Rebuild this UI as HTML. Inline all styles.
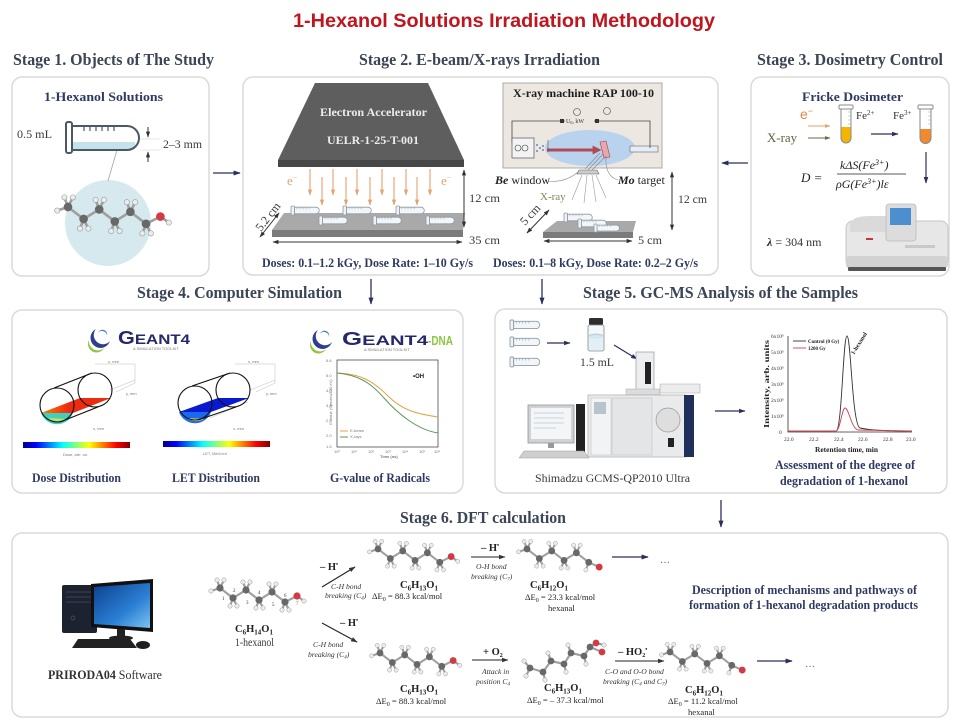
<!DOCTYPE html>
<html><head><meta charset="utf-8">
<style>
html,body{margin:0;padding:0;background:#fff;}
svg{display:block;}
text{font-family:"Liberation Serif",serif;}
.h{font-weight:bold;font-size:16.5px;fill:#3b4556;}
.b{font-weight:bold;font-size:13px;fill:#2e3a62;}
.r{font-size:12px;fill:#3a3a3a;}
.i{font-style:italic;font-size:7.6px;fill:#333;}
.s{font-size:8.6px;fill:#222;}
.sb{font-weight:bold;font-size:10.5px;fill:#222;}
.t{font-family:"Liberation Sans",sans-serif;font-size:4px;fill:#777;}
</style></head><body>
<svg width="960" height="727" viewBox="0 0 960 727" xmlns="http://www.w3.org/2000/svg">
<defs>
 <marker id="ah" viewBox="0 0 10 10" refX="9" refY="5" markerWidth="5.5" markerHeight="5.5" orient="auto"><path d="M0,1.5 L10,5 L0,8.5 z" fill="#2b2f5e"/></marker>
 <marker id="ak" viewBox="0 0 10 10" refX="9" refY="5" markerWidth="6" markerHeight="6" orient="auto-start-reverse"><path d="M0,1.5 L10,5 L0,8.5 z" fill="#333"/></marker>
 <marker id="ao" viewBox="0 0 10 10" refX="9" refY="5" markerWidth="5" markerHeight="5" orient="auto"><path d="M0,1.5 L10,5 L0,8.5 z" fill="#e5a06c"/></marker>
 <marker id="ag" viewBox="0 0 10 10" refX="9" refY="5" markerWidth="5" markerHeight="5" orient="auto"><path d="M0,1.5 L10,5 L0,8.5 z" fill="#5f7040"/></marker>
 <marker id="ar" viewBox="0 0 10 10" refX="6" refY="5" markerWidth="3" markerHeight="3" orient="auto"><path d="M0,0 L10,5 L0,10 z" fill="#b14a55"/></marker>
 <linearGradient id="jet" x1="0" x2="1" y1="0" y2="0">
  <stop offset="0" stop-color="#00008f"/><stop offset="0.12" stop-color="#0000ff"/><stop offset="0.37" stop-color="#00ffff"/><stop offset="0.62" stop-color="#ffff00"/><stop offset="0.87" stop-color="#ff0000"/><stop offset="1" stop-color="#800000"/>
 </linearGradient>
 <linearGradient id="scr" x1="0" x2="1" y1="0" y2="1"><stop offset="0" stop-color="#0d3f8f"/><stop offset="0.6" stop-color="#2a7fd4"/><stop offset="1" stop-color="#7cc3f2"/></linearGradient>
 <linearGradient id="red" x1="0" x2="1" y1="0" y2="0"><stop offset="0" stop-color="#ff7a00"/><stop offset="0.4" stop-color="#ee2a10"/><stop offset="1" stop-color="#e63010"/></linearGradient>
 <g id="tb"><rect x="0" y="0" width="3.5" height="9" rx="1" fill="#eef2f5" stroke="#8d9aa6" stroke-width="0.8"/><path d="M3.5,1.2 H25 A3.3,3.3 0 0 1 25,7.8 H3.5 Z" fill="#f2f6f8" stroke="#8d9aa6" stroke-width="0.8"/><path d="M6,1.2 v2 M9,1.2 v2 M12,1.2 v2 M15,1.2 v2 M18,1.2 v2" stroke="#9aa6b1" stroke-width="0.6"/></g>
 <g id="mol">
  <path d="M0,0L13,10L26,2L39,12L52,4L65,14L77,8L84,13 M0,0L-9,3 M0,0L-3,-8 M0,0L4,-8 M13,10L10,18 M13,10L17,18 M26,2L23,-6 M26,2L30,-6 M39,12L36,20 M39,12L43,20 M52,4L49,-4 M52,4L56,-4 M65,14L62,22 M65,14L69,22" stroke="#a0a0a0" stroke-width="2.2" fill="none" stroke-linecap="round"/>
  <g fill="#ececec" stroke="#9a9a9a" stroke-width="0.5"><circle cx="-9" cy="3" r="2.2"/><circle cx="-3" cy="-8" r="2.2"/><circle cx="4" cy="-8" r="2.2"/><circle cx="10" cy="18" r="2.2"/><circle cx="17" cy="18" r="2.2"/><circle cx="23" cy="-6" r="2.2"/><circle cx="30" cy="-6" r="2.2"/><circle cx="36" cy="20" r="2.2"/><circle cx="43" cy="20" r="2.2"/><circle cx="49" cy="-4" r="2.2"/><circle cx="56" cy="-4" r="2.2"/><circle cx="62" cy="22" r="2.2"/><circle cx="69" cy="22" r="2.2"/><circle cx="84" cy="13" r="2.2"/></g>
  <g fill="#686868"><circle cx="0" cy="0" r="3.6"/><circle cx="13" cy="10" r="3.6"/><circle cx="26" cy="2" r="3.6"/><circle cx="39" cy="12" r="3.6"/><circle cx="52" cy="4" r="3.6"/><circle cx="65" cy="14" r="3.6"/></g>
  <circle cx="77" cy="8" r="3.6" fill="#d23a44"/>
 </g>
 <g id="ald">
  <path d="M0,0L13,10L26,2L39,12L52,4L65,14L76,19 M0,0L-9,3 M0,0L-3,-8 M0,0L4,-8 M13,10L10,18 M13,10L17,18 M26,2L23,-6 M26,2L30,-6 M39,12L36,20 M39,12L43,20 M52,4L49,-4 M52,4L56,-4 M65,14L62,22" stroke="#a0a0a0" stroke-width="2.2" fill="none" stroke-linecap="round"/>
  <g fill="#ececec" stroke="#9a9a9a" stroke-width="0.5"><circle cx="-9" cy="3" r="2.2"/><circle cx="-3" cy="-8" r="2.2"/><circle cx="4" cy="-8" r="2.2"/><circle cx="10" cy="18" r="2.2"/><circle cx="17" cy="18" r="2.2"/><circle cx="23" cy="-6" r="2.2"/><circle cx="30" cy="-6" r="2.2"/><circle cx="36" cy="20" r="2.2"/><circle cx="43" cy="20" r="2.2"/><circle cx="49" cy="-4" r="2.2"/><circle cx="56" cy="-4" r="2.2"/><circle cx="62" cy="22" r="2.2"/></g>
  <g fill="#686868"><circle cx="0" cy="0" r="3.6"/><circle cx="13" cy="10" r="3.6"/><circle cx="26" cy="2" r="3.6"/><circle cx="39" cy="12" r="3.6"/><circle cx="52" cy="4" r="3.6"/><circle cx="65" cy="14" r="3.6"/></g>
  <circle cx="76" cy="19" r="3.6" fill="#d23a44"/>
 </g>
</defs>

<!-- Title -->
<text x="293" y="27" font-family="Liberation Sans, sans-serif" font-weight="bold" font-size="19.5" fill="#c0151d" textLength="422" lengthAdjust="spacingAndGlyphs" style="font-family:'Liberation Sans',sans-serif">1-Hexanol Solutions Irradiation Methodology</text>

<!-- Stage headings -->
<text class="h" x="13" y="65" textLength="201" lengthAdjust="spacingAndGlyphs">Stage 1. Objects of The Study</text>
<text class="h" x="359" y="65" textLength="241" lengthAdjust="spacingAndGlyphs">Stage 2. E-beam/X-rays Irradiation</text>
<text class="h" x="757" y="65" textLength="186" lengthAdjust="spacingAndGlyphs">Stage 3. Dosimetry Control</text>
<text class="h" x="137" y="298" textLength="205" lengthAdjust="spacingAndGlyphs">Stage 4. Computer Simulation</text>
<text class="h" x="583" y="298" textLength="275" lengthAdjust="spacingAndGlyphs">Stage 5. GC-MS Analysis of the Samples</text>
<text class="h" x="400" y="523" textLength="166" lengthAdjust="spacingAndGlyphs">Stage 6. DFT calculation</text>

<!-- Panels -->
<g fill="#fff" stroke="#dadada" stroke-width="1.5">
 <rect x="12" y="77" width="197" height="199" rx="10"/>
 <rect x="243" y="77" width="475" height="198" rx="10"/>
 <rect x="751" y="77" width="198" height="199" rx="10"/>
 <rect x="12" y="310" width="451" height="183" rx="10"/>
 <rect x="495" y="309" width="452" height="184" rx="10"/>
 <rect x="12" y="533" width="936" height="184" rx="10"/>
</g>

<!-- Connectors -->
<g stroke="#2b2f5e" stroke-width="1.3" fill="none" marker-end="url(#ah)">
 <line x1="213" y1="173" x2="240" y2="173"/>
 <line x1="748" y1="163" x2="722" y2="163"/>
 <line x1="371" y1="279" x2="371" y2="304"/>
 <line x1="542" y1="279" x2="542" y2="304"/>
 <line x1="721" y1="500" x2="721" y2="527"/>
</g>

<!-- ===== Stage 1 ===== -->
<text class="b" x="44" y="101" textLength="119" lengthAdjust="spacingAndGlyphs">1-Hexanol Solutions</text>
<text class="r" x="17" y="138" textLength="35" lengthAdjust="spacingAndGlyphs">0.5 mL</text>
<circle cx="108" cy="223" r="43" fill="#d6e9ef"/>
<line x1="117" y1="150" x2="108" y2="181" stroke="#aab4ba" stroke-width="1"/>
<rect x="73" y="142" width="62" height="7" fill="#c4e2ec"/>
<path d="M71,126 H127 A12,12 0 0 1 127,150 H71" fill="none" stroke="#4d5866" stroke-width="2"/>
<rect x="66" y="122" width="6" height="31" rx="2" fill="#fff" stroke="#4d5866" stroke-width="2"/>
<path d="M84,126v5 M90,126v5 M96,126v5 M102,126v5 M108,126v5 M114,126v5" stroke="#4d5866" stroke-width="1.2"/>
<line x1="140" y1="139" x2="160" y2="139" stroke="#e2e6e8" stroke-width="1"/>
<line x1="140" y1="150" x2="160" y2="150" stroke="#e2e6e8" stroke-width="1"/>
<line x1="148" y1="127" x2="148" y2="137" stroke="#333" stroke-width="1" marker-end="url(#ak)"/>
<line x1="148" y1="162" x2="148" y2="152" stroke="#333" stroke-width="1" marker-end="url(#ak)"/>
<text class="r" x="163" y="148" textLength="39" lengthAdjust="spacingAndGlyphs">2–3 mm</text>
<use href="#mol" transform="translate(68,207) scale(1.2)"/>

<!-- ===== Stage 2 left: E-beam ===== -->
<path d="M315,83 H428 L464,160 H278 Z" fill="#5e5e5e"/>
<rect x="278" y="160" width="186" height="7" fill="#474747"/>
<text x="320" y="116" font-weight="bold" font-size="12" fill="#ececec" textLength="107" lengthAdjust="spacingAndGlyphs">Electron Accelerator</text>
<text x="327" y="144" font-weight="bold" font-size="12" fill="#ececec" textLength="92" lengthAdjust="spacingAndGlyphs">UELR-1-25-T-001</text>
<g stroke="#e8ab7c" stroke-width="1.2" marker-end="url(#ao)">
 <line x1="310" y1="169" x2="310" y2="195"/><line x1="322" y1="177" x2="322" y2="205"/>
 <line x1="333" y1="169" x2="333" y2="195"/><line x1="346" y1="177" x2="346" y2="205"/>
 <line x1="357" y1="169" x2="357" y2="195"/><line x1="370" y1="177" x2="370" y2="205"/>
 <line x1="382" y1="169" x2="382" y2="195"/><line x1="394" y1="177" x2="394" y2="205"/>
 <line x1="406" y1="169" x2="406" y2="195"/><line x1="417" y1="177" x2="417" y2="205"/>
 <line x1="430" y1="169" x2="430" y2="195"/>
</g>
<text x="287" y="185" font-size="13" fill="#e8a070">e<tspan font-size="8" dy="-5">−</tspan></text>
<text x="441" y="185" font-size="13" fill="#e8a070">e<tspan font-size="8" dy="-5">−</tspan></text>
<path d="M284,213 H465 L463,230 H272 Z" fill="#a9a9a9"/>
<rect x="272" y="230" width="191" height="7" fill="#7b7b7b"/>
<use href="#tb" transform="translate(291,206)"/><use href="#tb" transform="translate(343,206)"/><use href="#tb" transform="translate(396,206)"/>
<use href="#tb" transform="translate(319,216)"/><use href="#tb" transform="translate(373,216)"/><use href="#tb" transform="translate(426,216)"/>
<line x1="260" y1="237" x2="279" y2="213" stroke="#333" stroke-width="1" marker-end="url(#ak)" marker-start="url(#ak)"/>
<text class="r" font-size="11" transform="translate(261,232) rotate(-52)">5.2 cm</text>
<line x1="464" y1="170" x2="464" y2="227" stroke="#333" stroke-width="1" marker-end="url(#ak)" marker-start="url(#ak)"/>
<text class="r" x="469" y="202" textLength="31" lengthAdjust="spacingAndGlyphs">12 cm</text>
<line x1="273" y1="242" x2="462" y2="242" stroke="#333" stroke-width="1" marker-end="url(#ak)" marker-start="url(#ak)"/>
<text class="r" x="469" y="244" textLength="31" lengthAdjust="spacingAndGlyphs">35 cm</text>
<text class="b" x="262" y="267" font-size="11.5" textLength="211" lengthAdjust="spacingAndGlyphs">Doses: 0.1–1.2 kGy, Dose Rate: 1–10 Gy/s</text>

<!-- ===== Stage 2 right: X-ray ===== -->
<rect x="503" y="83" width="159" height="85" fill="#ede7e1" stroke="#9a9a9a" stroke-width="0.8"/>
<text x="513" y="97" font-weight="bold" font-size="11.5" fill="#1e1e1e" textLength="141" lengthAdjust="spacingAndGlyphs">X-ray machine RAP 100-10</text>
<ellipse cx="590" cy="148" rx="45" ry="18" fill="#b9d3ee"/>
<rect x="630" y="146" width="28" height="6" fill="#e4edf6" stroke="#666" stroke-width="0.6"/>
<polyline points="512,143 512,121 650,121 650,148" fill="none" stroke="#444" stroke-width="0.8"/>
<rect x="560" y="119" width="4" height="4" fill="#333"/><rect x="595" y="119" width="4" height="4" fill="#333"/>
<rect x="565" y="117" width="29" height="7" fill="#ede7e1"/>
<text x="566" y="123" font-size="6" fill="#333">U<tspan font-size="4" dy="1">0</tspan><tspan dy="-1">, kW</tspan></text>
<circle cx="577" cy="112" r="3.5" fill="none" stroke="#444" stroke-width="0.6"/>
<circle cx="607" cy="111" r="3.5" fill="none" stroke="#444" stroke-width="0.6"/>
<rect x="512" y="138" width="22" height="20" fill="#f3f3f3" stroke="#555" stroke-width="0.7"/>
<circle cx="518" cy="148" r="3" fill="none" stroke="#444" stroke-width="0.6"/><circle cx="525" cy="148" r="3" fill="none" stroke="#444" stroke-width="0.6"/>
<g fill="#3b6ab0"><circle cx="537" cy="145" r="0.9"/><circle cx="540" cy="148" r="0.9"/><circle cx="537" cy="151" r="0.9"/><circle cx="543" cy="146" r="0.9"/><circle cx="543" cy="150" r="0.9"/></g>
<line x1="547" y1="150" x2="598" y2="150" stroke="#b14a55" stroke-width="3" marker-end="url(#ar)"/>
<line x1="548" y1="140" x2="548" y2="152" stroke="#555" stroke-width="0.6"/>
<path d="M600,142 L606,141 L610,157 L604,158 Z" fill="#e4a8ae" stroke="#a44" stroke-width="0.6"/>
<g stroke="#888" stroke-width="0.6"><line x1="603" y1="154" x2="588" y2="170"/><line x1="606" y1="156" x2="592" y2="170"/><line x1="600" y1="153" x2="585" y2="169"/></g>
<path d="M579,170 H597 L599,174 H577 Z" fill="#ccc" stroke="#666" stroke-width="0.6"/>
<g stroke="#999" stroke-width="0.6"><line x1="582" y1="175" x2="572" y2="200"/><line x1="587" y1="175" x2="584" y2="203"/><line x1="592" y1="175" x2="596" y2="202"/><line x1="596" y1="175" x2="606" y2="198"/></g>
<path d="M548,181 Q565,183 578,172" fill="none" stroke="#888" stroke-width="0.6"/>
<path d="M618,180 Q605,176 606,158" fill="none" stroke="#888" stroke-width="0.6"/>
<text x="495" y="184" font-size="12" fill="#222"><tspan font-weight="bold" font-style="italic">Be</tspan> window</text>
<text x="618" y="184" font-size="12" fill="#222"><tspan font-weight="bold" font-style="italic">Mo</tspan> target</text>
<text x="540" y="200" font-size="11" fill="#7d8a52">X-ray</text>
<path d="M557,221 H636 L633,232 H543 Z" fill="#a9a9a9"/>
<rect x="543" y="232" width="90" height="6" fill="#7b7b7b"/>
<use href="#tb" transform="translate(564,213)"/><use href="#tb" transform="translate(578,219)"/><use href="#tb" transform="translate(594,224) scale(0.9)"/>
<line x1="527" y1="233" x2="549" y2="210" stroke="#333" stroke-width="1" marker-end="url(#ak)" marker-start="url(#ak)"/>
<text class="r" font-size="11" transform="translate(525,226) rotate(-47)">5 cm</text>
<line x1="544" y1="241" x2="632" y2="241" stroke="#333" stroke-width="1" marker-end="url(#ak)" marker-start="url(#ak)"/>
<text class="r" x="638" y="244" textLength="24" lengthAdjust="spacingAndGlyphs">5 cm</text>
<line x1="672" y1="172" x2="672" y2="230" stroke="#333" stroke-width="1" marker-end="url(#ak)" marker-start="url(#ak)"/>
<text class="r" x="678" y="203" textLength="29" lengthAdjust="spacingAndGlyphs">12 cm</text>
<text class="b" x="493" y="267" font-size="11.5" textLength="205" lengthAdjust="spacingAndGlyphs">Doses: 0.1–8 kGy, Dose Rate: 0.2–2 Gy/s</text>

<!-- ===== Stage 3 ===== -->
<text class="b" x="802" y="101" textLength="101" lengthAdjust="spacingAndGlyphs">Fricke Dosimeter</text>
<text x="800" y="119" font-family="Liberation Sans, sans-serif" style="font-family:'Liberation Sans',sans-serif" font-size="14" fill="#e3884a">e<tspan font-size="9" dy="-5">−</tspan></text>
<text x="767" y="142" font-size="12.5" fill="#56663a" textLength="30" lengthAdjust="spacingAndGlyphs">X-ray</text>
<line x1="808" y1="126" x2="830" y2="126" stroke="#e5a06c" stroke-width="1.1" marker-end="url(#ao)"/>
<line x1="808" y1="138" x2="830" y2="138" stroke="#5f7040" stroke-width="1.1" marker-end="url(#ag)"/>
<path d="M841,127 V138 A5,5 0 0 0 851,138 V127 Z" fill="#f4b400"/>
<path d="M841,109 V138 A5,5 0 0 0 851,138 V109" fill="none" stroke="#8a8a8a" stroke-width="1"/>
<rect x="839" y="105" width="14" height="4" rx="1" fill="#fff" stroke="#8a8a8a" stroke-width="1"/>
<path d="M848,112h3 M848,116h3 M848,120h3 M848,124h3" stroke="#999" stroke-width="0.6"/>
<path d="M920,129 V138 A5.5,5.5 0 0 0 931,138 V129 Z" fill="#f08a2c"/>
<path d="M920,109 V138 A5.5,5.5 0 0 0 931,138 V109" fill="none" stroke="#8a8a8a" stroke-width="1"/>
<rect x="918" y="105" width="15" height="4" rx="1" fill="#fff" stroke="#8a8a8a" stroke-width="1"/>
<path d="M928,112h3 M928,116h3 M928,120h3 M928,124h3" stroke="#999" stroke-width="0.6"/>
<text x="856" y="119" font-size="11" fill="#333">Fe<tspan font-size="7" dy="-4">2+</tspan></text>
<text x="893" y="119" font-size="11" fill="#333">Fe<tspan font-size="7" dy="-4">3+</tspan></text>
<line x1="871" y1="134" x2="898" y2="134" stroke="#2b2f5e" stroke-width="1.2" marker-end="url(#ah)"/>
<line x1="926" y1="152" x2="926" y2="183" stroke="#2b2f5e" stroke-width="1.2" marker-end="url(#ah)"/>
<text x="801" y="182" font-size="13" font-style="italic" fill="#222">D =</text>
<text x="840" y="169" font-size="12" font-style="italic" fill="#222">kΔS(Fe<tspan font-size="8" dy="-4">3+</tspan><tspan dy="4">)</tspan></text>
<line x1="837" y1="174" x2="906" y2="174" stroke="#222" stroke-width="0.8"/>
<text x="836" y="188" font-size="12" font-style="italic" fill="#222">ρG(Fe<tspan font-size="8" dy="-4">3+</tspan><tspan dy="4">)lε</tspan></text>
<rect x="846" y="221" width="102" height="47" rx="7" fill="#e7e7e7" stroke="#c6c6c6"/>
<path d="M850,224 Q852,216 870,216 H886 V232 H850 Z" fill="#dadada"/>
<rect x="846" y="256" width="102" height="12" rx="3" fill="#d2d2d2"/>
<rect x="886" y="204" width="30" height="37" rx="3" fill="#dcdcdc" stroke="#bbb" stroke-width="0.8"/>
<rect x="890" y="208" width="21" height="17" fill="#4d8fce"/>
<rect x="866" y="238" width="7" height="2" fill="#c33"/>
<rect x="848" y="267" width="98" height="4" rx="1" fill="#555"/>
<rect x="905" y="245" width="30" height="3" fill="#c9c9c9"/>
<text x="767" y="246" font-size="12" fill="#333"><tspan font-weight="bold" font-style="italic">λ</tspan> = 304 nm</text>

<!-- ===== Stage 4 ===== -->
<!-- logos -->
<path d="M96,329 A10,10 0 1 0 110,341 A7,7 0 1 1 96,329 Z" fill="#2f3f8f"/>
<path d="M89,340 A9,9 0 0 0 104,348 A7,7 0 0 1 89,340 Z" fill="#8dc63f"/>
<path d="M98,333 A5,5 0 0 1 107,336 A4,4 0 0 0 98,333 Z" fill="#3b7bd0"/>
<text x="118" y="344" font-family="Liberation Sans, sans-serif" style="font-family:'Liberation Sans',sans-serif" font-weight="bold" font-size="18" fill="#25286b" textLength="72" lengthAdjust="spacingAndGlyphs">G<tspan font-size="14">EANT4</tspan></text>
<text class="t" x="133" y="350">A SIMULATION TOOLKIT</text>
<path d="M318,330 A10,10 0 1 0 332,342 A7,7 0 1 1 318,330 Z" fill="#2f3f8f"/>
<path d="M311,341 A9,9 0 0 0 326,349 A7,7 0 0 1 311,341 Z" fill="#8dc63f"/>
<path d="M320,334 A5,5 0 0 1 329,337 A4,4 0 0 0 320,334 Z" fill="#3b7bd0"/>
<text x="342" y="345" font-family="Liberation Sans, sans-serif" style="font-family:'Liberation Sans',sans-serif" font-weight="bold" font-size="18" fill="#25286b" textLength="86" lengthAdjust="spacingAndGlyphs">G<tspan font-size="14">EANT4</tspan></text>
<text x="428" y="345" font-family="Liberation Sans, sans-serif" style="font-family:'Liberation Sans',sans-serif" font-weight="bold" font-size="13" fill="#8dc63f" textLength="25" lengthAdjust="spacingAndGlyphs">-DNA</text>
<text class="t" x="364" y="351">A SIMULATION TOOLKIT</text>
<!-- dose cylinder -->
<g stroke="#bbb" stroke-width="0.5" fill="none"><path d="M95,364 H135 V383 M135,383 L116,392 M70,418 L108,402 M110,390 L135,380"/></g>
<text class="t" x="108" y="363">x, mm</text><text class="t" x="126" y="395">y, mm</text><text class="t" x="93" y="430">x, mm</text>
<path d="M41,413 H73 L111,398 H80 Z" fill="url(#red)"/>
<path d="M41,413 A17,17 0 0 0 73,413 Z" fill="#3fd0c0"/>
<path d="M48,418 A17,17 0 0 0 66,419 Z" fill="#f0e040" opacity="0.8"/>
<circle cx="57" cy="405" r="17" fill="none" stroke="#111" stroke-width="1.1"/>
<circle cx="95" cy="390" r="17" fill="none" stroke="#111" stroke-width="1.1"/>
<line x1="54" y1="388" x2="92" y2="373" stroke="#111" stroke-width="1.1"/>
<line x1="60" y1="422" x2="98" y2="407" stroke="#111" stroke-width="1.1"/>
<rect x="23" y="442" width="107" height="6" fill="url(#jet)"/>
<text class="t" x="63" y="456">Dose, arb. un.</text>
<!-- LET cylinder -->
<g stroke="#bbb" stroke-width="0.5" fill="none"><path d="M235,364 H275 V383 M275,383 L256,392 M210,418 L248,402 M250,390 L275,380"/></g>
<text class="t" x="248" y="363">x, mm</text><text class="t" x="266" y="395">y, mm</text><text class="t" x="233" y="430">x, mm</text>
<path d="M179,412 H211 L249,398 H218 Z" fill="#0a1ad0"/>
<path d="M179,412 A17,17 0 0 0 211,412 Z" fill="#1a6af0"/>
<path d="M186,418 A17,17 0 0 0 204,419 Z" fill="#e8e040"/>
<circle cx="195" cy="403" r="17" fill="none" stroke="#111" stroke-width="1.1"/>
<circle cx="233" cy="390" r="17" fill="none" stroke="#111" stroke-width="1.1"/>
<line x1="192" y1="386" x2="230" y2="373" stroke="#111" stroke-width="1.1"/>
<line x1="198" y1="420" x2="236" y2="407" stroke="#111" stroke-width="1.1"/>
<rect x="163" y="441" width="107" height="6" fill="url(#jet)"/>
<text class="t" x="203" y="455">LET, MeV/cm</text>
<!-- G-value chart -->
<rect x="337" y="360" width="101" height="87" fill="#fff" stroke="#333" stroke-width="0.7"/>
<path d="M337,373 C360,374 372,380 388,396 S420,414 438,417" fill="none" stroke="#e8a040" stroke-width="1"/>
<path d="M337,373 C358,375 370,382 384,398 S418,430 438,433" fill="none" stroke="#5a9a5a" stroke-width="1"/>
<text x="413" y="378" font-family="Liberation Sans, sans-serif" style="font-family:'Liberation Sans',sans-serif" font-weight="bold" font-size="6" fill="#222">•OH</text>
<line x1="340" y1="431" x2="348" y2="431" stroke="#e8a040" stroke-width="1"/><text class="t" x="350" y="432" fill="#333">E-beam</text>
<line x1="340" y1="437" x2="348" y2="437" stroke="#5a9a5a" stroke-width="1"/><text class="t" x="350" y="438" fill="#333">X-rays</text>
<text class="t" x="326" y="362">5.6</text><text class="t" x="326" y="377">5.0</text><text class="t" x="326" y="392">4.0</text><text class="t" x="326" y="407">3.5</text><text class="t" x="326" y="422">2.5</text><text class="t" x="326" y="437">2.0</text><text class="t" x="326" y="448">1.5</text>
<text class="t" x="334" y="453">10⁰</text><text class="t" x="351" y="453">10¹</text><text class="t" x="368" y="453">10²</text><text class="t" x="385" y="453">10³</text><text class="t" x="402" y="453">10⁴</text><text class="t" x="419" y="453">10⁵</text><text class="t" x="434" y="453">10⁶</text>
<text class="t" x="380" y="458" font-weight="bold" fill="#333">Time (ns)</text>
<text class="t" transform="translate(332,425) rotate(-90)" fill="#333">G value (Species/100 eV)</text>
<text class="b" x="32" y="482" font-size="12" textLength="89" lengthAdjust="spacingAndGlyphs">Dose Distribution</text>
<text class="b" x="172" y="482" font-size="12" textLength="88" lengthAdjust="spacingAndGlyphs">LET Distribution</text>
<text class="b" x="330" y="482" font-size="12" textLength="100" lengthAdjust="spacingAndGlyphs">G-value of Radicals</text>

<!-- ===== Stage 5 ===== -->
<use href="#tb" transform="translate(510,320) scale(1.05,1.1)"/>
<use href="#tb" transform="translate(510,337) scale(1.05,1.1)"/>
<use href="#tb" transform="translate(510,357) scale(1.05,1.1)"/>
<line x1="547" y1="343" x2="570" y2="343" stroke="#2b2f5e" stroke-width="1.2" marker-end="url(#ah)"/>
<rect x="589" y="318" width="14" height="7" rx="1.5" fill="#2e2e2e"/>
<rect x="588" y="325" width="16" height="26" rx="2" fill="#f3f8fa" stroke="#888" stroke-width="0.8"/>
<ellipse cx="596" cy="336" rx="7" ry="2" fill="#cfe6ee" stroke="#9ab" stroke-width="0.5"/>
<rect x="589" y="336" width="14" height="14" fill="#d9edf3" opacity="0.7"/>
<text class="r" x="580" y="366" font-size="12" textLength="34" lengthAdjust="spacingAndGlyphs">1.5 mL</text>
<line x1="614" y1="345" x2="637" y2="359" stroke="#2b2f5e" stroke-width="1.2" marker-end="url(#ah)"/>
<!-- GC-MS -->
<rect x="636" y="352" width="18" height="44" fill="#eceef0" stroke="#999" stroke-width="0.7"/>
<rect x="645" y="362" width="6" height="22" fill="#222"/>
<rect x="626" y="389" width="34" height="6" fill="#dcdcdc" stroke="#aaa" stroke-width="0.5"/>
<rect x="660" y="384" width="40" height="9" rx="1" fill="#ececec" stroke="#aaa" stroke-width="0.6"/>
<rect x="588" y="395" width="98" height="62" fill="#e9eaec" stroke="#aaa" stroke-width="0.7"/>
<rect x="591" y="398" width="20" height="57" fill="#f2f3f4" stroke="#bbb" stroke-width="0.5"/>
<rect x="594" y="402" width="12" height="12" fill="#b8c4cc"/>
<rect x="612" y="398" width="40" height="57" fill="#e4e5e7" stroke="#bbb" stroke-width="0.5"/>
<circle cx="668" cy="420" r="12" fill="#dedede" stroke="#999" stroke-width="0.7"/>
<rect x="668" y="438" width="6" height="9" fill="#222"/>
<rect x="684" y="395" width="10" height="62" fill="#1e2f5a"/>
<rect x="576" y="404" width="9" height="48" fill="#222"/>
<rect x="528" y="405" width="46" height="38" fill="#cfd3d6" stroke="#888" stroke-width="0.7"/>
<rect x="531" y="408" width="40" height="31" fill="#f3f5f7"/>
<path d="M534,413h30 M534,418h30 M534,423h30 M534,428h22" stroke="#c9d3dc" stroke-width="1"/>
<rect x="548" y="443" width="6" height="5" fill="#999"/>
<path d="M524,451 H584 L589,458 H519 Z" fill="#cfcfcf" stroke="#999" stroke-width="0.5"/>
<line x1="715" y1="411" x2="745" y2="411" stroke="#2b2f5e" stroke-width="1.2" marker-end="url(#ah)"/>
<text class="r" x="535" y="482" font-size="12.5" fill="#2e3a62" textLength="155" lengthAdjust="spacingAndGlyphs">Shimadzu GCMS-QP2010 Ultra</text>
<!-- chromatogram -->
<path d="M788,336 V432 H912" fill="none" stroke="#333" stroke-width="0.8"/>
<path d="M788,431 L836,431 C842,431 843,336 847,336 C851,336 852,425 860,428 C870,430 880,431 912,431" fill="none" stroke="#333" stroke-width="0.9"/>
<path d="M788,431 L836,431 C840,431 842,408 845,408 C849,408 851,428 858,430 L912,431" fill="none" stroke="#d04050" stroke-width="0.9"/>
<g font-size="5.5" fill="#333"><text x="779" y="434">0</text><text x="771" y="418">1x10⁶</text><text x="771" y="402">2x10⁶</text><text x="771" y="386">3x10⁶</text><text x="771" y="370">4x10⁶</text><text x="771" y="354">5x10⁶</text><text x="771" y="338">6x10⁶</text></g>
<g font-size="5.5" fill="#333"><text x="784" y="441">22.0</text><text x="809" y="441">22.2</text><text x="834" y="441">22.4</text><text x="858" y="441">22.6</text><text x="883" y="441">22.8</text><text x="906" y="441">23.0</text></g>
<text x="815" y="452" font-weight="bold" font-size="7.5" fill="#222" textLength="63" lengthAdjust="spacingAndGlyphs">Retention time, min</text>
<text transform="translate(769,428) rotate(-90)" font-weight="bold" font-size="7.5" fill="#222" textLength="88" lengthAdjust="spacingAndGlyphs">Intensity, arb. units</text>
<line x1="793" y1="341" x2="806" y2="341" stroke="#333" stroke-width="0.9"/><text x="808" y="343" font-weight="bold" font-size="5" fill="#222">Control (0 Gy)</text>
<line x1="793" y1="348" x2="806" y2="348" stroke="#d04050" stroke-width="0.9"/><text x="808" y="350" font-weight="bold" font-size="5" fill="#222">1200 Gy</text>
<text transform="translate(854,355) rotate(-58)" font-weight="bold" font-size="6" fill="#222">1-hexanol</text>
<text class="b" x="775" y="469" font-size="12.5" textLength="140" lengthAdjust="spacingAndGlyphs">Assessment of the degree of</text>
<text class="b" x="780" y="485" font-size="12.5" textLength="128" lengthAdjust="spacingAndGlyphs">degradation of 1-hexanol</text>

<!-- ===== Stage 6 ===== -->
<rect x="62" y="585" width="35" height="48" rx="2" fill="#1d2230"/>
<path d="M66,592h27 M66,597h27 M66,602h27" stroke="#3a4256" stroke-width="1"/>
<circle cx="73" cy="618" r="2" fill="none" stroke="#555" stroke-width="0.7"/>
<path d="M91,584 L153,579 V632 L91,627 Z" fill="#111"/>
<path d="M94,587 L150,583 V628 L94,624 Z" fill="url(#scr)"/>
<rect x="117" y="629" width="8" height="8" fill="#222"/>
<ellipse cx="121" cy="638" rx="12" ry="2.5" fill="#222"/>
<path d="M78,639 H130 L137,648 H72 Z" fill="#222"/>
<ellipse cx="143" cy="645" rx="7" ry="4" fill="#1e1e1e"/>
<text x="48" y="679" font-size="12.5" fill="#333" textLength="114" lengthAdjust="spacingAndGlyphs"><tspan font-weight="bold">PRIRODA04</tspan> Software</text>
<!-- 1-hexanol -->
<use href="#mol" transform="translate(220,588)"/>
<g font-size="5" fill="#333"><text x="222" y="600">1</text><text x="233" y="592">2</text><text x="246" y="604">3</text><text x="258" y="594">4</text><text x="272" y="606">5</text><text x="284" y="597">6</text><text x="296" y="605" fill="#d23a44">7</text></g>
<text class="sb" x="235" y="632">C<tspan font-size="7" dy="2.5">6</tspan><tspan dy="-2.5">H</tspan><tspan font-size="7" dy="2.5">14</tspan><tspan dy="-2.5">O</tspan><tspan font-size="7" dy="2.5">1</tspan></text>
<text class="r" x="235" y="646" font-size="11" textLength="39" lengthAdjust="spacingAndGlyphs">1-hexanol</text>
<!-- branch arrows -->
<line x1="322" y1="587" x2="355" y2="567" stroke="#222" stroke-width="1.1" marker-end="url(#ak)"/>
<text class="sb" x="320" y="570" font-size="9.5">– H<tspan font-size="6" dy="-4">•</tspan></text>
<text class="i" x="331" y="589">C-H bond</text>
<text class="i" x="325" y="598">breaking (C<tspan font-size="5" dy="1.5">4</tspan><tspan dy="-1.5">)</tspan></text>
<line x1="322" y1="623" x2="357" y2="642" stroke="#222" stroke-width="1.1" marker-end="url(#ak)"/>
<text class="sb" x="340" y="626" font-size="9.5">– H<tspan font-size="6" dy="-4">•</tspan></text>
<text class="i" x="313" y="647">C-H bond</text>
<text class="i" x="308" y="657">breaking (C<tspan font-size="5" dy="1.5">4</tspan><tspan dy="-1.5">)</tspan></text>
<!-- top product -->
<use href="#mol" transform="translate(378,549) scale(0.95)"/>
<text class="sb" x="400" y="588">C<tspan font-size="7" dy="2.5">6</tspan><tspan dy="-2.5">H</tspan><tspan font-size="7" dy="2.5">13</tspan><tspan dy="-2.5">O</tspan><tspan font-size="7" dy="2.5">1</tspan></text>
<text class="s" x="372" y="599">ΔE<tspan font-size="6" dy="2">0</tspan><tspan dy="-2"> = 88.3 kcal/mol</tspan></text>
<line x1="471" y1="557" x2="505" y2="557" stroke="#222" stroke-width="1.1" marker-end="url(#ak)"/>
<text class="sb" x="481" y="551" font-size="9.5">– H<tspan font-size="6" dy="-4">•</tspan></text>
<text class="i" x="476" y="569">O-H bond</text>
<text class="i" x="471" y="579">breaking (C<tspan font-size="5" dy="1.5">7</tspan><tspan dy="-1.5">)</tspan></text>
<use href="#ald" transform="translate(527,549) scale(0.95)"/>
<text class="sb" x="530" y="588">C<tspan font-size="7" dy="2.5">6</tspan><tspan dy="-2.5">H</tspan><tspan font-size="7" dy="2.5">12</tspan><tspan dy="-2.5">O</tspan><tspan font-size="7" dy="2.5">1</tspan></text>
<text class="s" x="525" y="600">ΔE<tspan font-size="6" dy="2">0</tspan><tspan dy="-2"> = 23.3 kcal/mol</tspan></text>
<text class="s" x="548" y="611">hexanal</text>
<line x1="612" y1="557" x2="648" y2="557" stroke="#2b2f5e" stroke-width="1.3" marker-end="url(#ah)"/>
<text x="660" y="563" font-size="10" fill="#666">…</text>
<text class="b" x="692" y="594" font-size="12.5" textLength="225" lengthAdjust="spacingAndGlyphs">Description of mechanisms and pathways of</text>
<text class="b" x="689" y="609" font-size="12.5" textLength="229" lengthAdjust="spacingAndGlyphs">formation of 1-hexanol degradation products</text>
<!-- bottom row -->
<use href="#mol" transform="translate(380,653) scale(0.95)"/>
<text class="sb" x="400" y="692">C<tspan font-size="7" dy="2.5">6</tspan><tspan dy="-2.5">H</tspan><tspan font-size="7" dy="2.5">13</tspan><tspan dy="-2.5">O</tspan><tspan font-size="7" dy="2.5">1</tspan></text>
<text class="s" x="376" y="704">ΔE<tspan font-size="6" dy="2">0</tspan><tspan dy="-2"> = 88.3 kcal/mol</tspan></text>
<line x1="472" y1="660" x2="508" y2="660" stroke="#222" stroke-width="1.1" marker-end="url(#ak)"/>
<text class="sb" x="483" y="655" font-size="9.5">+ O<tspan font-size="6" dy="2">2</tspan></text>
<text class="i" x="482" y="674">Attack in</text>
<text class="i" x="476" y="684">position C<tspan font-size="5" dy="1.5">4</tspan></text>
<!-- hydroperoxide -->
<path d="M530,668 L543,672 L551,661 L564,664 L571,653 L584,656 L590,647 L596,643 L604,645 M590,647 L602,652 M530,668 L524,661 M530,668 L526,676 M543,672 L545,680 M551,661 L548,653 M564,664 L566,672 M571,653 L568,645 M584,656 L586,664" stroke="#a0a0a0" stroke-width="2.2" fill="none" stroke-linecap="round"/>
<g fill="#ececec" stroke="#9a9a9a" stroke-width="0.5"><circle cx="524" cy="661" r="2.2"/><circle cx="526" cy="676" r="2.2"/><circle cx="545" cy="680" r="2.2"/><circle cx="548" cy="653" r="2.2"/><circle cx="566" cy="672" r="2.2"/><circle cx="568" cy="645" r="2.2"/><circle cx="586" cy="664" r="2.2"/><circle cx="604" cy="645" r="2.2"/></g>
<g fill="#686868"><circle cx="530" cy="668" r="3.4"/><circle cx="543" cy="672" r="3.4"/><circle cx="551" cy="661" r="3.4"/><circle cx="564" cy="664" r="3.4"/><circle cx="571" cy="653" r="3.4"/><circle cx="584" cy="656" r="3.4"/><circle cx="590" cy="647" r="3.4"/></g>
<circle cx="596" cy="643" r="3.4" fill="#d23a44"/><circle cx="602" cy="652" r="3.4" fill="#d23a44"/>
<text class="sb" x="544" y="691">C<tspan font-size="7" dy="2.5">6</tspan><tspan dy="-2.5">H</tspan><tspan font-size="7" dy="2.5">13</tspan><tspan dy="-2.5">O</tspan><tspan font-size="7" dy="2.5">1</tspan></text>
<text class="s" x="527" y="703">ΔE<tspan font-size="6" dy="2">0</tspan><tspan dy="-2"> = – 37.3 kcal/mol</tspan></text>
<line x1="615" y1="661" x2="664" y2="661" stroke="#222" stroke-width="1.1" marker-end="url(#ak)"/>
<text class="sb" x="618" y="655" font-size="9.5">– HO<tspan font-size="6" dy="2">2</tspan><tspan font-size="6" dy="-6">•</tspan></text>
<text class="i" x="605" y="674">C-O and O-O bond</text>
<text class="i" x="603" y="684">breaking (C<tspan font-size="5" dy="1.5">4</tspan><tspan dy="-1.5"> and C</tspan><tspan font-size="5" dy="1.5">7</tspan><tspan dy="-1.5">)</tspan></text>
<use href="#ald" transform="translate(670,652) scale(0.95)"/>
<text class="sb" x="685" y="693">C<tspan font-size="7" dy="2.5">6</tspan><tspan dy="-2.5">H</tspan><tspan font-size="7" dy="2.5">12</tspan><tspan dy="-2.5">O</tspan><tspan font-size="7" dy="2.5">1</tspan></text>
<text class="s" x="668" y="704">ΔE<tspan font-size="6" dy="2">0</tspan><tspan dy="-2"> = 11.2 kcal/mol</tspan></text>
<text class="s" x="688" y="715">hexanal</text>
<line x1="757" y1="661" x2="792" y2="661" stroke="#2b2f5e" stroke-width="1.3" marker-end="url(#ah)"/>
<text x="805" y="667" font-size="10" fill="#666">…</text>
</svg>
</body></html>
